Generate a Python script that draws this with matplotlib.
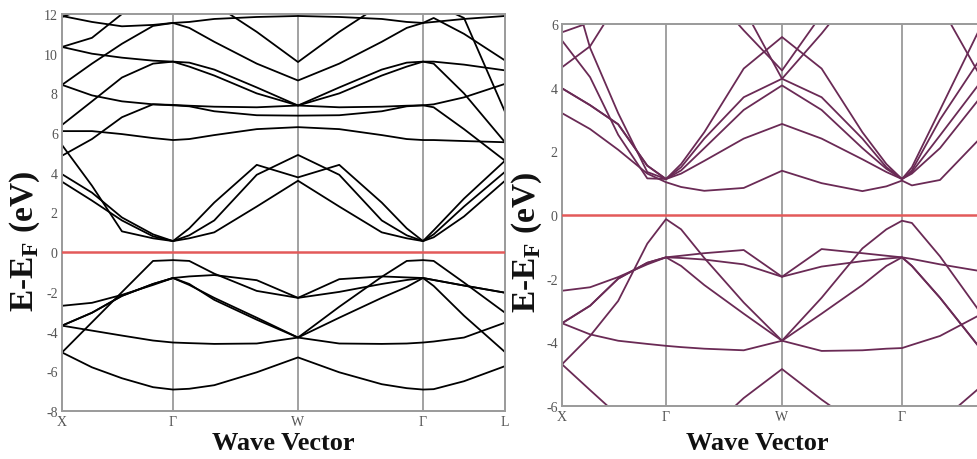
import numpy as np
import matplotlib.pyplot as plt

plt.rcParams['font.family'] = 'Liberation Serif'
plt.rcParams['mathtext.fontset'] = 'custom'
plt.rcParams['mathtext.rm'] = 'Liberation Serif'
plt.rcParams['mathtext.bf'] = 'Liberation Serif:bold'
plt.rcParams['axes.unicode_minus'] = False

# k-path sample points: segment index + fraction (X=0, Γ=1, W=2, Γ=3, L=4)
s_grid = [0, 0.27, 0.54, 0.82, 1, 1.13, 1.33, 1.67, 2, 2.33, 2.67, 2.87, 3, 3.13, 3.5, 4]
k_labels_left = ['X', 'Γ', 'W', 'Γ', 'L']
k_labels_right = ['X', 'Γ', 'W', 'Γ', '']
left_ticks = [0, 111, 236, 361, 443]
right_ticks = [0, 104, 220, 340, 416]

# left panel (eV)
left_valence = [
    [-5.05, -3.53, -2.01, -0.44, -0.40, -0.44, -1.08, -1.95, -2.30, -2.00, -1.60, -1.40, -1.30, -1.40, -1.68, -2.04],
    [-2.70, -2.55, -2.15, -1.65, -1.30, -1.22, -1.15, -1.41, -2.30, -1.36, -1.22, -1.27, -1.30, -1.70, -3.20, -5.03],
    [-3.70, -3.05, -2.20, -1.60, -1.30, -1.65, -2.30, -3.30, -4.30, -2.75, -1.24, -0.44, -0.40, -0.44, -1.53, -3.05],
    [-3.70, -3.05, -2.20, -1.60, -1.30, -1.60, -2.40, -3.40, -4.30, -3.30, -2.30, -1.75, -1.30, -1.40, -1.68, -2.04],
    [-3.70, -3.95, -4.20, -4.45, -4.55, -4.58, -4.62, -4.60, -4.30, -4.60, -4.62, -4.60, -4.55, -4.50, -4.30, -3.55],
    [-5.05, -5.80, -6.35, -6.80, -6.92, -6.88, -6.70, -6.05, -5.30, -6.05, -6.65, -6.85, -6.92, -6.90, -6.50, -5.74],
]
left_conduction = [
    [3.55, 2.60, 1.60, 0.80, 0.56, 0.70, 1.00, 2.30, 3.60, 2.30, 1.00, 0.70, 0.56, 0.75, 1.80, 3.60],
    [3.93, 3.00, 1.75, 0.90, 0.56, 0.85, 1.60, 3.90, 4.90, 3.90, 1.60, 0.85, 0.56, 0.90, 2.30, 4.05],
    [5.40, 3.35, 1.05, 0.70, 0.56, 1.20, 2.50, 4.40, 3.77, 4.40, 2.50, 1.20, 0.56, 1.10, 2.70, 4.61],
    [6.10, 6.10, 5.95, 5.75, 5.65, 5.70, 5.90, 6.20, 6.30, 6.20, 5.90, 5.70, 5.65, 5.65, 5.60, 5.54],
    [8.43, 7.90, 7.60, 7.45, 7.42, 7.38, 7.33, 7.30, 7.39, 7.30, 7.33, 7.38, 7.40, 7.45, 7.80, 8.48],
    [4.86, 5.70, 6.80, 7.45, 7.40, 7.35, 7.10, 6.90, 6.88, 6.90, 7.10, 7.35, 7.40, 7.30, 6.20, 4.61],
    [6.41, 7.60, 8.80, 9.50, 9.60, 9.35, 8.90, 8.00, 7.39, 8.00, 8.90, 9.35, 9.60, 9.60, 9.45, 9.16],
    [10.34, 10.00, 9.80, 9.65, 9.60, 9.55, 9.20, 8.30, 7.39, 8.30, 9.20, 9.55, 9.60, 9.50, 8.00, 5.54],
    [8.43, 9.50, 10.50, 11.40, 11.55, 11.30, 10.60, 9.50, 8.65, 9.50, 10.60, 11.30, 11.55, 11.80, 11.00, 9.66],
    [11.90, 11.60, 11.38, 11.45, 11.55, 11.60, 11.75, 11.85, 11.90, 11.85, 11.75, 11.60, 11.55, 11.60, 11.75, 11.90],
    [10.34, 10.80, 12.00, 13.00, 13.40, 13.20, 12.50, 11.10, 9.58, 11.10, 12.50, 13.20, 13.40, 12.50, 11.80, 7.07],
    [11.85, 12.40, 13.00, 13.50, 13.60, 13.50, 13.20, 12.80, 12.60, 12.80, 13.20, 13.50, 13.60, 13.50, 13.00, 12.40],
]

# right panel (eV)
right_valence = [
    [-4.69, -3.80, -2.70, -0.90, -0.13, -0.45, -1.35, -2.75, -3.95, -2.60, -1.05, -0.45, -0.18, -0.25, -1.30, -2.96],
    [-3.40, -2.85, -2.00, -1.50, -1.33, -1.28, -1.20, -1.10, -1.94, -1.07, -1.20, -1.28, -1.33, -1.60, -2.60, -4.10],
    [-3.40, -3.75, -3.95, -4.05, -4.11, -4.15, -4.20, -4.25, -3.95, -4.27, -4.25, -4.20, -4.18, -4.08, -3.80, -3.17],
    [-2.38, -2.27, -1.95, -1.55, -1.33, -1.35, -1.40, -1.55, -1.94, -1.62, -1.45, -1.37, -1.33, -1.38, -1.55, -1.75],
    [-3.40, -2.85, -2.00, -1.50, -1.33, -1.60, -2.20, -3.10, -3.95, -3.10, -2.20, -1.60, -1.33, -1.60, -2.60, -4.10],
    [-4.69, -5.50, -6.30, -7.00, -7.20, -7.10, -6.90, -5.75, -4.84, -5.80, -6.70, -7.00, -7.10, -7.00, -6.50, -5.47],
]
right_conduction = [
    [3.20, 2.70, 2.05, 1.30, 1.03, 0.88, 0.76, 0.85, 1.39, 1.00, 0.75, 0.90, 1.08, 0.93, 1.10, 2.34],
    [3.98, 3.45, 2.85, 1.55, 1.13, 1.30, 1.70, 2.40, 2.86, 2.40, 1.75, 1.35, 1.13, 1.30, 2.10, 3.60],
    [5.48, 4.33, 2.52, 1.15, 1.13, 1.60, 2.60, 4.60, 5.59, 4.60, 2.60, 1.60, 1.13, 1.50, 3.30, 5.74],
    [8.30, 5.25, 3.20, 1.35, 1.13, 1.50, 2.40, 3.70, 4.28, 3.70, 2.40, 1.50, 1.13, 1.35, 2.50, 4.07],
    [3.98, 3.45, 2.85, 1.55, 1.13, 1.40, 2.10, 3.30, 4.07, 3.30, 2.10, 1.45, 1.13, 1.40, 3.00, 4.80],
    [5.74, 6.05, 7.00, 7.50, 7.60, 7.50, 7.20, 5.80, 4.54, 6.30, 7.30, 7.50, 7.50, 7.40, 7.00, 6.60],
    [4.64, 5.30, 6.70, 7.60, 8.00, 8.20, 8.50, 6.50, 4.28, 5.70, 7.30, 8.00, 8.20, 7.80, 6.60, 4.49],
]

fig = plt.figure(figsize=(9.77, 4.6), dpi=100)
ax1 = fig.add_axes([62 / 977, 48 / 460, 443 / 977, 397 / 460])
ax2 = fig.add_axes([562 / 977, 53 / 460, 416 / 977, 382 / 460])


def draw_bands(ax, ticks, labels, bands, color, ylim, yticks):
    k = np.interp(s_grid, range(5), ticks)
    for band in bands:
        ax.plot(k, band, color=color, lw=1.3, solid_joinstyle='round', zorder=2)
    for t in ticks[1:-1]:
        ax.axvline(t, color='#9a9a9a', lw=1.3, zorder=1)
    ax.axhline(0, color='#e35a5a', lw=1.8, zorder=3)
    ax.set_xlim(ticks[0], ticks[-1])
    ax.set_ylim(*ylim)
    ax.set_yticks(yticks)
    ax.set_xticks(ticks)
    ax.set_xticklabels(labels)
    ax.tick_params(length=0, labelsize=10, colors='#555555', pad=3)
    for sp in ax.spines.values():
        sp.set_color('#9a9a9a')
        sp.set_linewidth(1.4)
    ax.set_xlabel('Wave Vector', fontsize=19, fontweight='bold', color='#111111')
    ax.set_ylabel(r'E-E$_\mathbf{F}$ (eV)', fontsize=24, fontweight='bold', color='#111111')


draw_bands(ax1, left_ticks, k_labels_left, left_valence + left_conduction,
           'black', (-8, 12), range(-8, 13, 2))
draw_bands(ax2, right_ticks, k_labels_right, right_valence + right_conduction,
           '#6a2a55', (-6, 6), range(-6, 7, 2))

ax1.xaxis.set_label_coords(0.5, -0.05)
ax1.yaxis.set_label_coords(-0.045, 0.43)
ax2.xaxis.set_label_coords(0.47, -0.065)
ax2.yaxis.set_label_coords(-0.043, 0.43)

fig.savefig('out.png', dpi=100)
